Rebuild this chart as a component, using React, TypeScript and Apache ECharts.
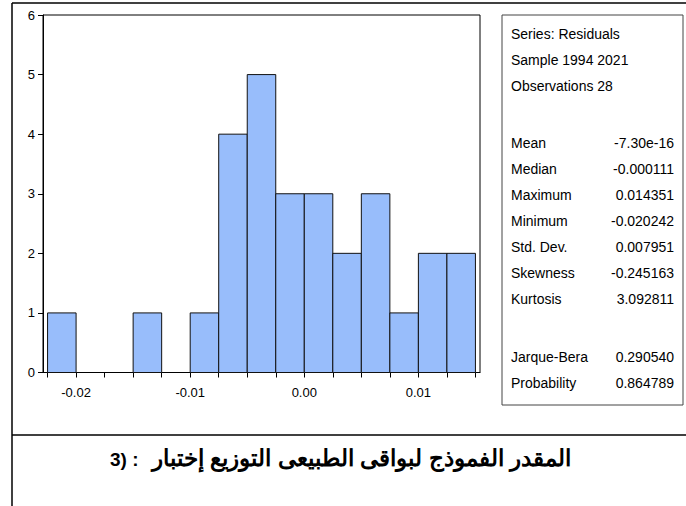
import React, { useEffect, useRef } from "react";
import * as echarts from "echarts";

const binStarts = [-0.0225, -0.02, -0.0175, -0.015, -0.0125, -0.01, -0.0075, -0.005, -0.0025, 0, 0.0025, 0.005, 0.0075, 0.01, 0.0125];
const binWidth = 0.0025;
const counts = [1, 0, 0, 1, 0, 1, 4, 5, 3, 3, 2, 3, 1, 2, 2];
const xLabelValues = [-0.02, -0.01, 0, 0.01];
const yTicks = [0, 1, 2, 3, 4, 5, 6];

const statsHeader = ["Series: Residuals", "Sample 1994 2021", "Observations 28"];
const statNames = ["Mean", "Median", "Maximum", "Minimum", "Std. Dev.", "Skewness", "Kurtosis"];
const statValues = ["-7.30e-16", "-0.000111", "0.014351", "-0.020242", "0.007951", "-0.245163", "3.092811"];
const testNames = ["Jarque-Bera", "Probability"];
const testValues = ["0.290540", "0.864789"];

const captionNumber = "3) :";
const captionWords = ["إختبار", "التوزيع", "الطبيعى", "لبواقى", "الفموذج", "المقدر"];

const FONT = "'Liberation Sans', Arial, sans-serif";

export default function App() {
  const ref = useRef<HTMLDivElement>(null);
  useEffect(() => {
    if (!ref.current) return;
    const chart = echarts.init(ref.current, null, { renderer: "svg" });

    const barData = binStarts.map((s, i) => [s, s + binWidth, counts[i]]);
    const tickValues = [...binStarts, binStarts[binStarts.length - 1] + binWidth];

    const txt = (text: string, x: number, y: number, align: string) => ({
      type: "text",
      x,
      y,
      scaleY: 1.1,
      style: {
        text,
        x: 0,
        y: 0,
        fill: "#000",
        font: `14px ${FONT}`,
        textAlign: align,
        textVerticalAlign: "middle",
      },
    });

    const statsEls: any[] = [];
    const hdrY = [33.5, 59.5, 85.5];
    statsHeader.forEach((t, i) => statsEls.push(txt(t, 511, hdrY[i], "left")));
    statNames.forEach((t, i) => {
      const y = 142.5 + i * 26;
      statsEls.push(txt(t, 511, y, "left"));
      statsEls.push(txt(statValues[i], 674, y, "right"));
    });
    testNames.forEach((t, i) => {
      const y = 357 + i * 26;
      statsEls.push(txt(t, 511, y, "left"));
      statsEls.push(txt(testValues[i], 674, y, "right"));
    });

    // keep Arabic words in the visual left-to-right order of the original caption
    const captionText = "\u200E" + captionWords.join("\u200E ");

    chart.setOption({
      animation: false,
      backgroundColor: "#fff",
      grid: {
        left: 43,
        right: 206,
        top: 15,
        bottom: 133.5,
        show: true,
        borderColor: "#000",
        borderWidth: 1,
        backgroundColor: "transparent",
      },
      xAxis: {
        type: "value",
        min: -0.0229,
        max: 0.0154,
        axisLine: { show: true, onZero: false, lineStyle: { color: "#000", width: 1 } },
        axisTick: { show: true, length: 5, customValues: tickValues, lineStyle: { color: "#000" } },
        axisLabel: {
          customValues: xLabelValues,
          formatter: (v: number) => v.toFixed(2),
          color: "#000",
          fontSize: 13,
          fontFamily: FONT,
          margin: 13,
        },
        splitLine: { show: false },
      },
      yAxis: {
        type: "value",
        min: 0,
        max: 6,
        interval: 1,
        axisLine: { show: true, onZero: false, lineStyle: { color: "#000", width: 1 } },
        axisTick: { show: true, length: 5, lineStyle: { color: "#000" } },
        axisLabel: {
          color: "#000",
          fontSize: 13,
          fontFamily: FONT,
          margin: 8,
          formatter: (v: number) => (yTicks.includes(v) ? String(v) : ""),
        },
        splitLine: { show: false },
      },
      series: [
        {
          type: "custom",
          data: barData,
          renderItem: (params: any, api: any) => {
            const x0 = api.value(0);
            const x1 = api.value(1);
            const c = api.value(2);
            if (!c) return null;
            const p0 = api.coord([x0, c]);
            const p1 = api.coord([x1, 0]);
            return {
              type: "rect",
              shape: { x: p0[0], y: p0[1], width: p1[0] - p0[0], height: p1[1] - p0[1] },
              style: { fill: "#98bdfb", stroke: "#111", lineWidth: 1 },
            };
          },
          encode: { x: [0, 1], y: 2 },
        },
      ],
      graphic: [
        { type: "line", shape: { x1: 12, y1: 3, x2: 686, y2: 3 }, style: { stroke: "#000", lineWidth: 1.5 } },
        { type: "line", shape: { x1: 12, y1: 3, x2: 12, y2: 506 }, style: { stroke: "#000", lineWidth: 1.5 } },
        { type: "line", shape: { x1: 12, y1: 435, x2: 686, y2: 435 }, style: { stroke: "#000", lineWidth: 1.5 } },
        {
          type: "rect",
          shape: { x: 502, y: 15, width: 181, height: 390 },
          style: { fill: "none", stroke: "#444", lineWidth: 1 },
        },
        ...statsEls,
        {
          type: "text",
          x: 110,
          y: 459,
          style: {
            text: captionNumber,
            fill: "#000",
            font: `bold 19px ${FONT}`,
            textAlign: "left",
            textVerticalAlign: "middle",
          },
        },
        {
          type: "text",
          x: 152,
          y: 458,
          style: {
            text: captionText,
            fill: "#000",
            font: `bold 23px ${FONT}`,
            textAlign: "left",
            textVerticalAlign: "middle",
          },
        },
      ],
    });
    return () => chart.dispose();
  }, []);
  return <div ref={ref} style={{ position: "absolute", left: 0, top: 0, width: 686, height: 506 }} />;
}
